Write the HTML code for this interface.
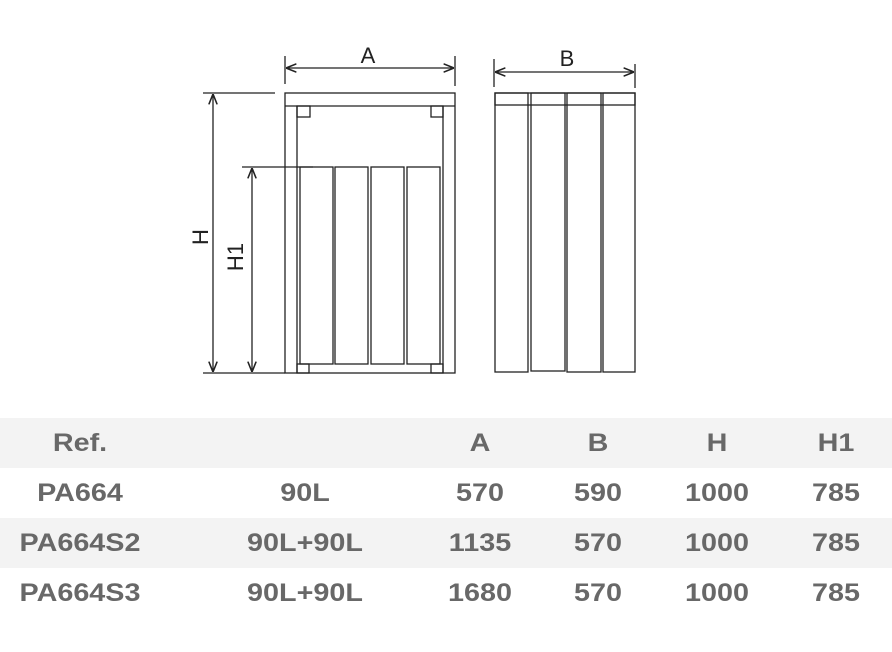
<!DOCTYPE html>
<html><head><style>
body{margin:0;width:892px;height:652px;background:#fff;overflow:hidden;position:relative;font-family:"Liberation Sans",sans-serif}
.row{position:absolute;left:0;width:892px;height:50px}
.c{position:absolute;top:0;line-height:50px;font-weight:bold;font-size:25px;color:#686868;transform:translateX(-50%) scaleX(1.15);white-space:nowrap}
</style></head><body>
<svg width="892" height="410" style="position:absolute;left:0;top:0" stroke="#222" stroke-width="1.3" fill="none">
<defs><marker id="a" viewBox="0 0 10 10" refX="10" refY="5" markerWidth="8" markerHeight="8" orient="auto-start-reverse"><path d="M0,1 L10,5 L0,9" fill="none" stroke="#222" stroke-width="1.5"/></marker></defs>
<line x1="285" y1="56" x2="285" y2="84"/><line x1="455" y1="56" x2="455" y2="86"/>
<line x1="286" y1="68" x2="454" y2="68" marker-start="url(#a)" marker-end="url(#a)"/>
<text x="368" y="63" font-size="22" fill="#222" stroke="none" text-anchor="middle" font-family="Liberation Sans">A</text>
<rect x="285" y="93" width="170" height="280"/>
<line x1="285" y1="106" x2="455" y2="106"/>
<line x1="297" y1="106" x2="297" y2="373"/><line x1="443" y1="106" x2="443" y2="373"/>
<rect x="297" y="106" width="13" height="11"/><rect x="431" y="106" width="12" height="11"/>
<rect x="297" y="364" width="12" height="9"/><rect x="431" y="364" width="12" height="9"/>
<rect x="300" y="167" width="33" height="197"/><rect x="335" y="167" width="33" height="197"/>
<rect x="371" y="167" width="33" height="197"/><rect x="407" y="167" width="33" height="197"/>
<line x1="203" y1="93" x2="275" y2="93"/><line x1="203" y1="373" x2="285" y2="373"/>
<line x1="213" y1="94" x2="213" y2="372" marker-start="url(#a)" marker-end="url(#a)"/>
<line x1="242" y1="167" x2="313" y2="167"/>
<line x1="252" y1="168" x2="252" y2="372" marker-start="url(#a)" marker-end="url(#a)"/>
<text transform="translate(208,237) rotate(-90)" font-size="22" fill="#222" stroke="none" text-anchor="middle" font-family="Liberation Sans">H</text>
<text transform="translate(243,257) rotate(-90)" font-size="22" fill="#222" stroke="none" text-anchor="middle" font-family="Liberation Sans">H1</text>
<line x1="494" y1="59" x2="494" y2="87"/><line x1="635" y1="64" x2="635" y2="88"/>
<line x1="495" y1="72" x2="634" y2="72" marker-start="url(#a)" marker-end="url(#a)"/>
<text x="567" y="66" font-size="22" fill="#222" stroke="none" text-anchor="middle" font-family="Liberation Sans">B</text>
<rect x="495" y="93" width="140" height="12"/>
<rect x="495" y="93" width="33" height="279"/><rect x="531" y="93" width="34" height="278"/>
<rect x="567" y="93" width="34" height="279"/><rect x="603" y="93" width="32" height="279"/>
</svg>
<div class="row" style="top:418px;background:#f3f3f3"><span class="c" style="left:80px">Ref.</span><span class="c" style="left:480px">A</span><span class="c" style="left:598px">B</span><span class="c" style="left:717px">H</span><span class="c" style="left:836px">H1</span></div>
<div class="row" style="top:468px"><span class="c" style="left:80px">PA664</span><span class="c" style="left:305px">90L</span><span class="c" style="left:480px">570</span><span class="c" style="left:598px">590</span><span class="c" style="left:717px">1000</span><span class="c" style="left:836px">785</span></div>
<div class="row" style="top:518px;background:#f3f3f3"><span class="c" style="left:80px">PA664S2</span><span class="c" style="left:305px">90L+90L</span><span class="c" style="left:480px">1135</span><span class="c" style="left:598px">570</span><span class="c" style="left:717px">1000</span><span class="c" style="left:836px">785</span></div>
<div class="row" style="top:568px"><span class="c" style="left:80px">PA664S3</span><span class="c" style="left:305px">90L+90L</span><span class="c" style="left:480px">1680</span><span class="c" style="left:598px">570</span><span class="c" style="left:717px">1000</span><span class="c" style="left:836px">785</span></div>
</body></html>
